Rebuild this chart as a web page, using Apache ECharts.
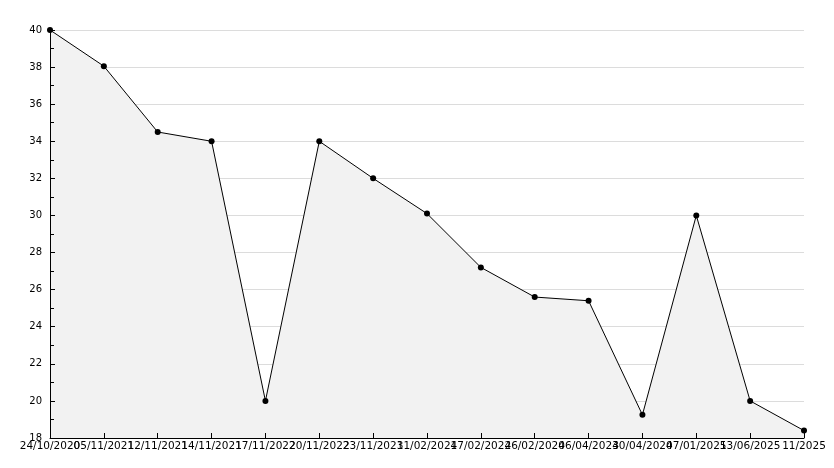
<!DOCTYPE html>
<html>
<head>
<meta charset="utf-8">
<script src="https://cdn.jsdelivr.net/npm/echarts@6/dist/echarts.min.js"></script>
<style>
  html, body { margin: 0; padding: 0; background: #fff; }
  #chart { width: 834px; height: 468px; }
</style>
</head>
<body>
<div id="chart"></div>
<script>
// categories (dates) as shown under the x axis
var dates = ['24/10/2020', '05/11/2021', '12/11/2021', '14/11/2021', '17/11/2022',
  '20/11/2022', '23/11/2023', '11/02/2024', '17/02/2024', '26/02/2024',
  '06/04/2024', '30/04/2024', '07/01/2025', '13/06/2025', '11/2025'];
// values
var values = [40, 38.05, 34.5, 34, 20, 34, 32, 30.1, 27.2, 25.6, 25.4, 19.25, 30, 20, 18.4];
var yMin = 18, yMax = 40, yStep = 2;

var chart = echarts.init(document.getElementById('chart'));
chart.setOption({
  animation: false,
  grid: { left: 50, right: 30, top: 30, bottom: 30 },
  xAxis: [
    // under the series: nothing but grid space
    {
      type: 'category', data: dates, boundaryGap: false,
      axisLine: { show: false }, axisTick: { show: false },
      axisLabel: { show: false }, splitLine: { show: false }
    },
    // on top: black line, inside ticks, labels
    {
      type: 'category', data: dates, boundaryGap: false, position: 'bottom', z: 10,
      axisLine: { lineStyle: { color: '#000', width: 1 } },
      axisTick: { inside: true, length: 5, alignWithLabel: true, lineStyle: { color: '#000' } },
      axisLabel: { interval: 0, margin: 3, color: '#000', fontFamily: 'DejaVu Sans', fontSize: 10.5 },
      splitLine: { show: false }
    }
  ],
  yAxis: [
    {
      type: 'value', min: yMin, max: yMax, interval: yStep,
      axisLine: { show: false }, axisTick: { show: false }, axisLabel: { show: false },
      splitLine: { show: true, lineStyle: { color: '#dcdcdc', width: 1 } }
    },
    {
      type: 'value', min: yMin, max: yMax, interval: yStep, position: 'left', z: 10,
      axisLine: { show: true, lineStyle: { color: '#000', width: 1 } },
      axisTick: { show: true, inside: true, length: 5, lineStyle: { color: '#000' } },
      minorTick: { show: true, splitNumber: 2, length: 4, lineStyle: { color: '#000' } },
      axisLabel: { margin: 8, color: '#000', fontFamily: 'DejaVu Sans', fontSize: 10 },
      splitLine: { show: false }
    }
  ],
  series: [{
    type: 'line',
    xAxisIndex: 0,
    yAxisIndex: 0,
    data: values,
    symbol: 'circle',
    symbolSize: 6,
    itemStyle: { color: '#000' },
    lineStyle: { color: '#000', width: 1 },
    areaStyle: { color: '#f2f2f2', opacity: 1, origin: 'start' }
  }]
});
</script>
</body>
</html>
